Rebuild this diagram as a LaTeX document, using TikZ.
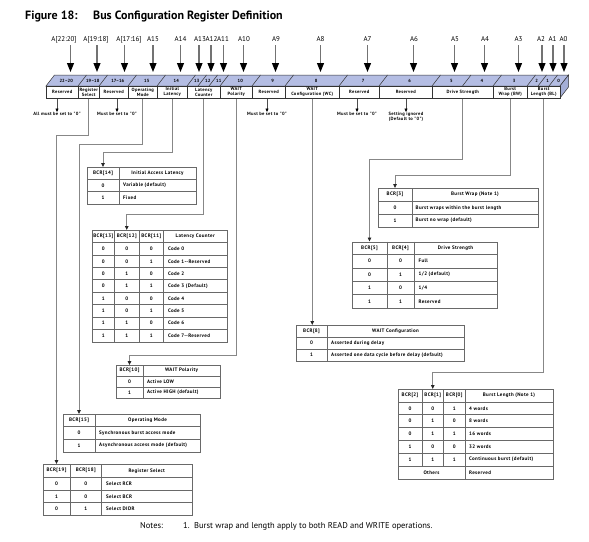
\documentclass[tikz,border=0pt]{standalone}
\usepackage{fontspec}
\setmainfont{PT Sans}
\newfontfamily\tblfont{PT Sans}[LetterSpace=7]
\usetikzlibrary{arrows.meta,calc}
\definecolor{topblue}{RGB}{180,189,227}
\definecolor{sideblue}{RGB}{164,174,214}
\definecolor{wire}{RGB}{135,135,135}
\definecolor{rule}{RGB}{105,105,105}
\begin{document}
\begin{tikzpicture}[x=1pt,y=-1pt,
  title/.style={font=\fontsize{12}{14}\selectfont\bfseries, anchor=base west, inner sep=0},
  addr/.style={font=\fontsize{7}{8.5}\selectfont, anchor=base, inner sep=0},
  addrarrow/.style={draw=black!55, line width=1.1pt, -{Triangle[length=9pt,width=7pt,color=black]}},
  field/.style={draw=black!80, line width=0.5pt, fill=white, inner sep=0, minimum height=12pt,
    anchor=north west, font=\tblfont\fontsize{4.6}{5.1}\selectfont\bfseries, align=center},
  bitno/.style={font=\fontsize{4.5}{5}\selectfont\bfseries, inner sep=0},
  note/.style={font=\tblfont\fontsize{4.6}{5.3}\selectfont\bfseries, align=center, inner sep=0, anchor=north},
  shortarrow/.style={draw=black!70, line width=0.6pt, -{Triangle[length=3.5pt,width=3pt,color=black]}},
  wireline/.style={draw=wire, line width=0.8pt, -{Triangle[length=4pt,width=3.5pt,color=black!85]}},
  tbl/.style={draw=rule, line width=0.7pt, anchor=north west, inner sep=0},
  grid/.style={draw=rule, line width=0.7pt},
  th/.style={font=\tblfont\fontsize{5}{5.8}\selectfont\bfseries, inner sep=0},
  td/.style={font=\tblfont\fontsize{5}{5.8}\selectfont\bfseries, inner sep=0},
  tdl/.style={td, anchor=west},
  notes/.style={font=\fontsize{8.5}{10}\selectfont, anchor=base west, inner sep=0}
]
\useasboundingbox (0,0) rectangle (589,541);

% ---------------- title ----------------
\node[title] (fig) at (25,19) {Figure 18:};
\node[title] (ttl) at (93,19) {Bus Configuration Register Definition};

% ---------------- register bar ----------------
% top face and right side
\draw[line width=0.5pt, draw=black!80, fill=topblue] (46,86) -- (54.5,75) -- (568.5,75) -- (560,86) -- cycle;
\draw[line width=0.5pt, draw=black!80, fill=sideblue] (560,86) -- (568.5,75) -- (568.5,87) -- (560,98) -- cycle;
\foreach \d in {78,99,128,157,187,198,209,220,252,285,339,379,432,462.5,493,527,538,549}
  \draw[line width=0.5pt, draw=black!80] (\d,86) -- ++(8.5,-11);

% bit numbers on the top face
\foreach \c/\t [count=\i] in {62/22--20,88.5/19--18,113.5/17--16,142.5/15,172/14,192.5/13,203.5/12,
   214.5/11,236/10,268.5/9,312/8,359/7,405.5/6,447.25/5,477.75/4,510/3,532.5/2,543.5/1,554.5/0}
  \node[bitno] (bit\i) at (\c+4.25,80.5) {\t};

% front face fields
\node[field, minimum width=32pt] (fR1) at (46,86)  {Reserved};
\node[field, minimum width=21pt] (fRS) at (78,86)  {Register\\Select};
\node[field, minimum width=29pt] (fR2) at (99,86)  {Reserved};
\node[field, minimum width=29pt] (fOM) at (128,86) {Operating\\Mode};
\node[field, minimum width=30pt] (fIL) at (157,86) {Initial\\Latency};
\node[field, minimum width=33pt] (fLC) at (187,86) {Latency\\Counter};
\node[field, minimum width=32pt] (fWP) at (220,86) {WAIT\\Polarity};
\node[field, minimum width=33pt] (fR3) at (252,86) {Reserved};
\node[field, minimum width=54pt] (fWC) at (285,86) {WAIT\\Configuration (WC)};
\node[field, minimum width=40pt] (fR4) at (339,86) {Reserved};
\node[field, minimum width=53pt] (fR5) at (379,86) {Reserved};
\node[field, minimum width=61pt] (fDS) at (432,86) {Drive Strength};
\node[field, minimum width=34pt] (fBW) at (493,86) {Burst\\Wrap (BW)};
\node[field, minimum width=33pt] (fBL) at (527,86) {Burst\\Length (BL)};

% ---------------- address inputs ----------------
% label centre / arrow position / text
\coordinate (tipline) at (0,72);
\foreach \l/\c/\t [count=\i] in {64/70.5/A[22:20],96/97/A[19:18],129/124.5/A[17:16],153/153/A15,
   180.5/180.5/A14,200/199/A13,211.5/211/A12,223/223.5/A11,244/243.5/A10,276/275.5/A9,320.5/320.5/A8,
   367.5/367.5/A7,414/413.5/A6,455/454.5/A5,485/484.5/A4,518.5/518.5/A3,541/542/A2,
   552.5/553/A1,563.5/564/A0}
{
  \node[addr] (adr\i) at (\l,41) {\t};
  \coordinate (ain\i) at (\c,45);
  \draw[addrarrow] (ain\i) -- (ain\i |- tipline);
}

% ---------------- reserved-bit notes ----------------
\node[note] (n1) at (57,112)  {All must be set to "0"};
\node[note] (n2) at (117,112) {Must be set to "0"};
\node[note] (n3) at (267,112) {Must be set to "0"};
\node[note] (n4) at (357,112) {Must be set to "0"};
\node[note] (n5) at (406,112) {Setting ignored\\(Default to "0")};
\draw[shortarrow] (fR1.south -| n1.north) -- (n1.north);
\draw[shortarrow] (fR2.south -| n2.north) -- (n2.north);
\draw[shortarrow] (fR3.south -| n3.north) -- (n3.north);
\draw[shortarrow] (fR4.south -| n4.north) -- (n4.north);
\draw[shortarrow] (fR5.south -| n5.north) -- (n5.north);

% ---------------- BCR[14]: initial access latency ----------------
\node[tbl, minimum width=109pt, minimum height=37pt] (tIL) at (87,167) {};
\draw[grid] (87,179) -- (196,179) (87,191.5) -- (196,191.5) (119,167) -- (119,204);
\node[th] (tIL-h1) at (103,173) {BCR[14]};
\node[th] (tIL-h2) at (157.5,173) {Initial Access Latency};
\node[td]  (tIL-a1) at (103,185.25) {0};
\node[tdl] (tIL-b1) at (123,185.25) {Variable (default)};
\node[td]  (tIL-a2) at (103,197.75) {1};
\node[tdl] (tIL-b2) at (123,197.75) {Fixed};

% ---------------- BCR[13:11]: latency counter ----------------
\node[tbl, minimum width=135pt, minimum height=111.7pt] (tLC) at (92,230) {};
\draw[grid] (92,242.7) -- (227,242.7);
\foreach \i in {1,...,7} \draw[grid] (92,242.7+\i*12.375) -- (227,242.7+\i*12.375);
\foreach \x in {114.5,139,163.5} \draw[grid] (\x,230) -- (\x,341.7);
\node[th] (tLC-h1) at (103.25,236.35) {BCR[13]};
\node[th] (tLC-h2) at (126.75,236.35) {BCR[12]};
\node[th] (tLC-h3) at (151.25,236.35) {BCR[11]};
\node[th] (tLC-h4) at (195.25,236.35) {Latency Counter};
\foreach \a/\b/\c/\d [count=\i] in {0/0/0/Code 0,0/0/1/Code 1--Reserved,0/1/0/Code 2,
   0/1/1/Code 3 (Default),1/0/0/Code 4,1/0/1/Code 5,1/1/0/Code 6,1/1/1/Code 7--Reserved}
{
  \node[td]  (tLC-a\i) at (103.25,{242.7+(\i-0.5)*12.375}) {\a};
  \node[td]  (tLC-b\i) at (126.75,{242.7+(\i-0.5)*12.375}) {\b};
  \node[td]  (tLC-c\i) at (151.25,{242.7+(\i-0.5)*12.375}) {\c};
  \node[tdl] (tLC-d\i) at (168,{242.7+(\i-0.5)*12.375}) {\d};
}

% ---------------- BCR[3]: burst wrap ----------------
\node[tbl, minimum width=160pt, minimum height=39pt] (tBW) at (378,188) {};
\draw[grid] (378,201.5) -- (538,201.5) (378,214) -- (538,214) (412,188) -- (412,227);
\node[th] (tBW-h1) at (395,194.75) {BCR[3]};
\node[th] (tBW-h2) at (475,194.75) {Burst Wrap (Note 1)};
\node[td]  (tBW-a1) at (395,207.75) {0};
\node[tdl] (tBW-b1) at (415.5,207.75) {Burst wraps within the burst length};
\node[td]  (tBW-a2) at (395,220.5) {1};
\node[tdl] (tBW-b2) at (415.5,220.5) {Burst no wrap (default)};

% ---------------- BCR[5:4]: drive strength ----------------
\node[tbl, minimum width=145pt, minimum height=66.5pt] (tDS) at (352,241.5) {};
\draw[grid] (352,254.5) -- (497,254.5);
\foreach \i in {1,2,3} \draw[grid] (352,254.5+\i*13.375) -- (497,254.5+\i*13.375);
\foreach \x in {387,414} \draw[grid] (\x,241.5) -- (\x,308);
\node[th] (tDS-h1) at (369.5,248) {BCR[5]};
\node[th] (tDS-h2) at (400.5,248) {BCR[4]};
\node[th] (tDS-h3) at (455.5,248) {Drive Strength};
\foreach \a/\b/\d [count=\i] in {0/0/Full,0/1/{1/2 (default)},1/0/{1/4},1/1/Reserved}
{
  \node[td]  (tDS-a\i) at (369.5,{254.5+(\i-0.5)*13.375}) {\a};
  \node[td]  (tDS-b\i) at (400.5,{254.5+(\i-0.5)*13.375}) {\b};
  \node[tdl] (tDS-d\i) at (418.5,{254.5+(\i-0.5)*13.375}) {\d};
}

% ---------------- BCR[8]: WAIT configuration ----------------
\node[tbl, minimum width=168pt, minimum height=36pt] (tWC) at (296,325) {};
\draw[grid] (296,337) -- (464,337) (296,349) -- (464,349) (327,325) -- (327,361);
\node[th] (tWC-h1) at (311.5,331) {BCR[8]};
\node[th] (tWC-h2) at (395.5,331) {WAIT Configuration};
\node[td]  (tWC-a1) at (311.5,343) {0};
\node[tdl] (tWC-b1) at (331,343) {Asserted during delay};
\node[td]  (tWC-a2) at (311.5,355) {1};
\node[tdl] (tWC-b2) at (331,355) {Asserted one data cycle before delay (default)};

% ---------------- BCR[10]: WAIT polarity ----------------
\node[tbl, minimum width=104pt, minimum height=33pt] (tWP) at (116,365) {};
\draw[grid] (116,376) -- (220,376) (116,387) -- (220,387) (143,365) -- (143,398);
\node[th] (tWP-h1) at (129.5,370.5) {BCR[10]};
\node[th] (tWP-h2) at (181.5,370.5) {WAIT Polarity};
\node[td]  (tWP-a1) at (129.5,381.5) {0};
\node[tdl] (tWP-b1) at (147,381.5) {Active LOW};
\node[td]  (tWP-a2) at (129.5,392.5) {1};
\node[tdl] (tWP-b2) at (147,392.5) {Active HIGH (default)};

% ---------------- BCR[15]: operating mode ----------------
\node[tbl, minimum width=137pt, minimum height=37.5pt] (tOM) at (63,414) {};
\draw[grid] (63,426.5) -- (200,426.5) (63,439) -- (200,439) (95,414) -- (95,451.5);
\node[th] (tOM-h1) at (79,420.25) {BCR[15]};
\node[th] (tOM-h2) at (147.5,420.25) {Operating Mode};
\node[td]  (tOM-a1) at (79,432.75) {0};
\node[tdl] (tOM-b1) at (99,432.75) {Synchronous burst access mode};
\node[td]  (tOM-a2) at (79,445.25) {1};
\node[tdl] (tOM-b2) at (99,445.25) {Asynchronous access mode (default)};

% ---------------- BCR[19:18]: register select ----------------
\node[tbl, minimum width=149pt, minimum height=51pt] (tRS) at (43,464) {};
\draw[grid] (43,477.5) -- (192,477.5) (43,490) -- (192,490) (43,502.5) -- (192,502.5);
\foreach \x in {70,101.5} \draw[grid] (\x,464) -- (\x,515);
\node[th] (tRS-h1) at (56.5,470.75) {BCR[19]};
\node[th] (tRS-h2) at (85.75,470.75) {BCR[18]};
\node[th] (tRS-h3) at (146.75,470.75) {Register Select};
\foreach \a/\b/\d [count=\i] in {0/0/Select RCR,1/0/Select BCR,0/1/Select DIDR}
{
  \node[td]  (tRS-a\i) at (56.5,{477.5+(\i-0.5)*12.5}) {\a};
  \node[td]  (tRS-b\i) at (85.75,{477.5+(\i-0.5)*12.5}) {\b};
  \node[tdl] (tRS-d\i) at (106,{477.5+(\i-0.5)*12.5}) {\d};
}

% ---------------- BCR[2:0]: burst length ----------------
\node[tbl, minimum width=155pt, minimum height=90pt] (tBL) at (398,389) {};
\foreach \i in {1,...,6} \draw[grid] (398,389+\i*12.857) -- (553,389+\i*12.857);
\foreach \x in {422,443.5} \draw[grid] (\x,389) -- (\x,466.14);
\draw[grid] (465,389) -- (465,479);
\node[th] (tBL-h1) at (410,395.43) {BCR[2]};
\node[th] (tBL-h2) at (432.75,395.43) {BCR[1]};
\node[th] (tBL-h3) at (454.25,395.43) {BCR[0]};
\node[th] (tBL-h4) at (509,395.43) {Burst Length (Note 1)};
\foreach \a/\b/\c/\d [count=\i] in {0/0/1/4 words,0/1/0/8 words,0/1/1/16 words,
   1/0/0/32 words,1/1/1/Continuous burst (default)}
{
  \node[td]  (tBL-a\i) at (410,{401.86+(\i-0.5)*12.857}) {\a};
  \node[td]  (tBL-b\i) at (432.75,{401.86+(\i-0.5)*12.857}) {\b};
  \node[td]  (tBL-c\i) at (454.25,{401.86+(\i-0.5)*12.857}) {\c};
  \node[tdl] (tBL-d\i) at (469,{401.86+(\i-0.5)*12.857}) {\d};
}
\node[td]  (tBL-o) at (431.5,472.57) {Others};
\node[tdl] (tBL-r) at (469,472.57) {Reserved};

% ---------------- field-to-table connectors ----------------
\draw[wireline] (fRS.south) -- ++(0,37)  -| (tRS-h1 |- tRS.north);
\draw[wireline] (fOM.south) -- ++(0,46)  -| (tOM-h1 |- tOM.north);
\draw[wireline] (fIL.south) -- ++(0,54)  -| (tIL-h1 |- tIL.north);
\draw[wireline] (fLC.south) -- ++(0,116) -| (tLC-h2 |- tLC.north);
\draw[wireline] (fWP.south) -- ++(0,257) -| (tWP-h1 |- tWP.north);
\draw[wireline] (fWC.south) -- (fWC.south |- tWC.north);
\draw[wireline] (fDS.south) -- ++(0,61)  -| (tDS-h1 |- tDS.north);
\draw[wireline] (fBW.south) -- ++(0,77)  -| (tBW-h1 |- tBW.north);
\draw[wireline] (fBL.south) -- ++(0,274) -| (tBL-h2 |- tBL.north);

% ---------------- footnote ----------------
\node[notes] (nt1) at (140,528) {Notes:};
\node[notes] (nt2) at (183,528) {1.\ \ Burst wrap and length apply to both READ and WRITE operations.};
\end{tikzpicture}
\end{document}
